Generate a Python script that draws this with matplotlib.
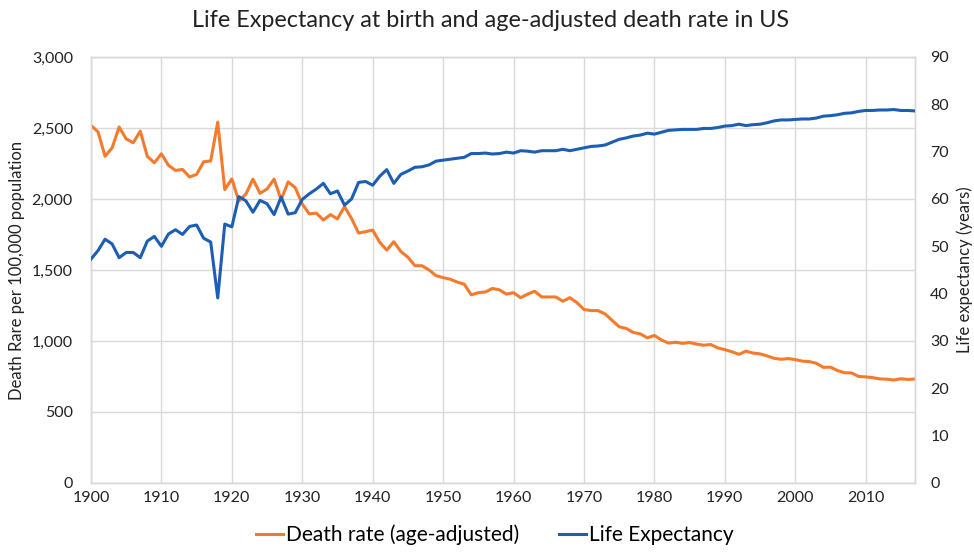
import numpy as np
import matplotlib.pyplot as plt
from matplotlib.ticker import FuncFormatter

years = list(range(1900, 2018))

# age-adjusted death rate per 100,000
death_rate = [
    2518, 2473, 2301, 2360, 2507, 2423, 2396, 2478, 2300, 2255,
    2318, 2237, 2201, 2208, 2155, 2173, 2262, 2268, 2541, 2066,
    2141, 1985, 2035, 2140, 2040, 2070, 2140, 1995, 2120, 2080,
    1965, 1895, 1900, 1852, 1890, 1860, 1946, 1862, 1760, 1770,
    1781, 1695, 1640, 1699, 1630, 1590, 1530, 1530, 1500, 1460,
    1446, 1435, 1415, 1400, 1325, 1340, 1345, 1370, 1360, 1330,
    1340, 1305, 1330, 1350, 1310, 1310, 1310, 1280, 1305, 1270,
    1222, 1214, 1214, 1190, 1145, 1100, 1088, 1060, 1050, 1022,
    1039, 1007, 985, 991, 983, 989, 978, 970, 975, 951,
    939, 924, 906, 928, 915, 909, 895, 878, 871, 876,
    869, 858, 855, 843, 814, 816, 792, 776, 775, 750,
    747, 742, 733, 731, 725, 734, 729, 732,
]

# life expectancy at birth (years)
life_exp = [
    47.3, 49.1, 51.5, 50.5, 47.6, 48.7, 48.7, 47.6, 51.1, 52.1,
    50.0, 52.6, 53.5, 52.5, 54.2, 54.5, 51.7, 50.9, 39.1, 54.7,
    54.1, 60.5, 59.6, 57.2, 59.7, 59.0, 56.7, 60.4, 56.8, 57.1,
    59.9, 61.1, 62.1, 63.3, 61.1, 61.7, 58.7, 60.0, 63.5, 63.7,
    62.9, 64.8, 66.2, 63.3, 65.2, 65.9, 66.7, 66.8, 67.2, 68.0,
    68.2, 68.4, 68.6, 68.8, 69.6, 69.6, 69.7, 69.5, 69.6, 69.9,
    69.7, 70.2, 70.1, 69.9, 70.2, 70.2, 70.2, 70.5, 70.2, 70.5,
    70.8, 71.1, 71.2, 71.4, 72.0, 72.6, 72.9, 73.3, 73.5, 73.9,
    73.7, 74.1, 74.5, 74.6, 74.7, 74.7, 74.7, 74.9, 74.9, 75.1,
    75.4, 75.5, 75.8, 75.5, 75.7, 75.8, 76.1, 76.5, 76.7, 76.7,
    76.8, 76.9, 76.9, 77.1, 77.5, 77.6, 77.8, 78.1, 78.2, 78.5,
    78.7, 78.7, 78.8, 78.8, 78.9, 78.7, 78.7, 78.6,
]

orange = "#F57A2C"
blue = "#1B5EB4"
grid_c = "#D9D9D9"
txt_c = "#222222"

plt.rcParams["font.family"] = ["Lato", "DejaVu Sans"]

fig = plt.figure(figsize=(9.74, 5.57), dpi=100)
ax = fig.add_axes([0.0934, 0.1329, 0.8460, 0.7648])
ax2 = ax.twinx()

l1, = ax.plot(years, death_rate, color=orange, lw=2.2, label="Death rate (age-adjusted)", zorder=3)
l2, = ax2.plot(years, life_exp, color=blue, lw=2.2, label="Life Expectancy", zorder=3)

ax.set_xlim(1900, 2017)
ax.set_ylim(0, 3000)
ax2.set_ylim(0, 90)
ax.set_xticks(range(1900, 2011, 10))
ax.set_yticks(range(0, 3001, 500))
ax2.set_yticks(range(0, 91, 10))
ax.yaxis.set_major_formatter(FuncFormatter(lambda v, p: f"{int(v):,}"))

ax.grid(True, color=grid_c, lw=1.0)
ax.set_axisbelow(True)
for a in (ax, ax2):
    for s in a.spines.values():
        s.set_color(grid_c)
        s.set_linewidth(1.0)
    a.tick_params(length=0, labelsize=11.5, colors=txt_c)
ax.tick_params(axis="y", pad=13)
ax.tick_params(axis="x", pad=6)
ax2.tick_params(axis="y", pad=11)

ax.set_ylabel("Death Rare per 100,000 population", fontsize=12, color=txt_c, labelpad=5)
ax2.set_ylabel("Life expectancy (years)", fontsize=12, color=txt_c, labelpad=5)

fig.suptitle("Life Expectancy at birth and age-adjusted death rate in US",
             fontsize=16.8, color=txt_c, x=0.504, y=0.982)

fig.legend(handles=[l1, l2], loc="lower center", bbox_to_anchor=(0.508, -0.012),
           ncol=2, frameon=False, fontsize=15, handlelength=1.3,
           handletextpad=0.15, columnspacing=1.9)

fig.savefig("out.png", dpi=100)
